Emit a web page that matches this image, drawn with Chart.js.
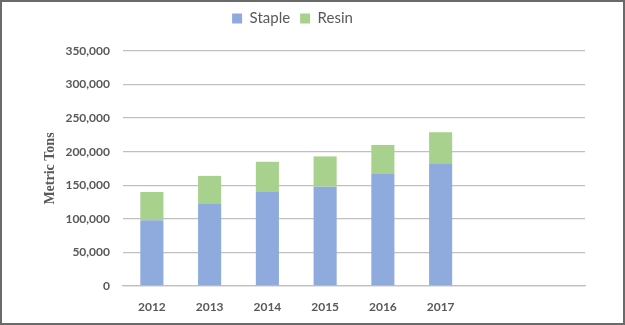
<!DOCTYPE html>
<html>
<head>
<meta charset="utf-8">
<script src="https://cdn.jsdelivr.net/npm/chart.js@4"></script>
<style>
  body { margin: 0; background: #fff; }
  #wrap { position: relative; width: 625px; height: 325px; }
  #frame { position: absolute; left: 0; top: 0; width: 625px; height: 325px;
           box-sizing: border-box; border: 2px solid #6a6a6a; pointer-events: none; }
</style>
</head>
<body>
<div id="wrap">
  <canvas id="fiberChart" width="625" height="325"></canvas>
  <div id="frame"></div>
</div>
<script>
var years = ["2012", "2013", "2014", "2015", "2016", "2017", "", ""];
var staple = [98000, 122000, 140000, 148000, 167000, 183000, null, null];
var resin = [42000, 42000, 45000, 45000, 43000, 46000, null, null];
var yTicks = [0, 50000, 100000, 150000, 200000, 250000, 300000, 350000];

var textColor = "#595959";
var gridColor = "#c0c0c0";

// push the plot down a bit below the legend
var legendGap = {
    id: "legendGap",
    beforeLayout: function (chart) {
        var lg = chart.legend;
        if (lg && !lg._gapped) {
            var fit = lg.fit;
            lg.fit = function () {
                fit.call(this);
                this.height += 15;
            };
            lg._gapped = true;
        }
    }
};

var ctx = document.getElementById("fiberChart").getContext("2d");

var chart = new Chart(ctx, {
    type: "bar",
    data: {
        labels: years,
        datasets: [{
            label: "Staple",
            data: staple,
            backgroundColor: "#8faadc",
            barPercentage: 0.4,
            categoryPercentage: 1
        }, {
            label: "Resin",
            data: resin,
            backgroundColor: "#a9d18e",
            barPercentage: 0.4,
            categoryPercentage: 1
        }]
    },
    options: {
        responsive: false,
        animation: false,
        layout: {
            padding: { top: 1, right: 40, left: 0, bottom: 0 }
        },
        plugins: {
            tooltip: { enabled: false },
            legend: {
                position: "top",
                labels: {
                    boxWidth: 10,
                    boxHeight: 10,
                    padding: 10,
                    color: textColor,
                    font: { family: "Lato", size: 15 }
                }
            }
        },
        scales: {
            x: {
                stacked: true,
                grid: { display: false, drawTicks: false },
                border: { color: gridColor, width: 1.3 },
                ticks: {
                    color: textColor,
                    padding: 14,
                    font: { family: "Lato", size: 12, weight: "bold" }
                },
                afterFit: function (s) { s.height = 39; }
            },
            y: {
                stacked: true,
                min: 0,
                max: 350000,
                afterBuildTicks: function (s) {
                    s.ticks = yTicks.map(function (v) { return { value: v }; });
                },
                grid: { color: gridColor, lineWidth: 1.3, drawTicks: false },
                border: { display: false },
                ticks: {
                    color: textColor,
                    padding: 13,
                    font: { family: "Lato", size: 12, weight: "bold" },
                    callback: function (v) { return v.toLocaleString("en-US"); }
                },
                title: {
                    display: true,
                    text: "Metric Tons",
                    color: textColor,
                    padding: { top: 42, bottom: 0 },
                    font: { family: "Liberation Serif", size: 14, weight: "bold" }
                },
                afterFit: function (s) { s.width = 123; }
            }
        }
    },
    plugins: [legendGap]
});
</script>
</body>
</html>
